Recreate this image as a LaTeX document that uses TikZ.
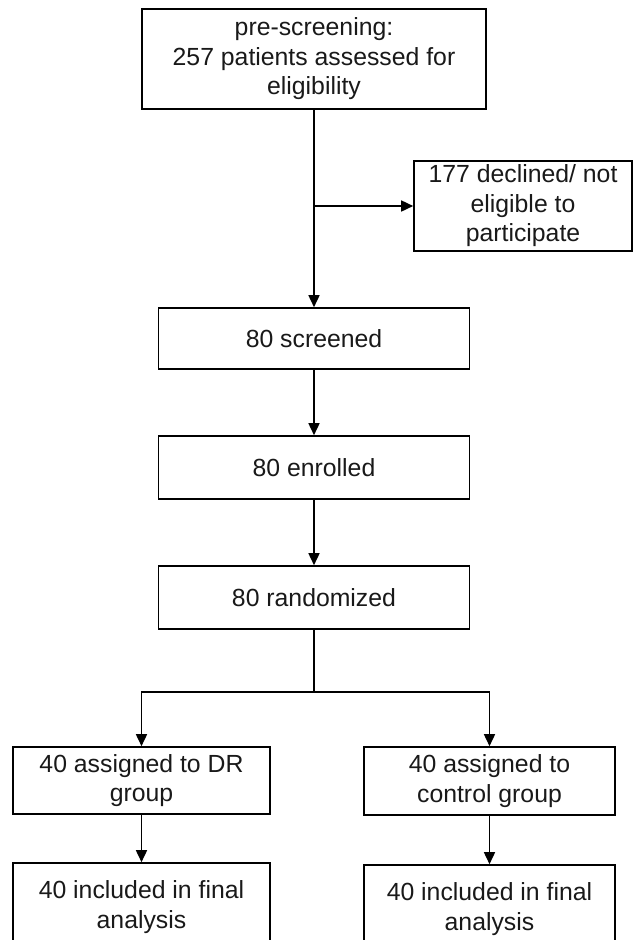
\documentclass[tikz,border=0pt]{standalone}
\usepackage{fontspec}
\setmainfont{Liberation Sans}
\usetikzlibrary{arrows.meta}
\begin{document}
\begin{tikzpicture}[x=1pt,y=-1pt,
  box/.style={draw=black, line width=1.6pt, rectangle, inner sep=0pt, align=center,
    font=\fontsize{24.8}{29.5}\selectfont, text=black!90},
  arr/.style={draw=black, line width=1.6pt, -{Triangle[length=12pt,width=11pt]}},
  ln/.style={draw=black, line width=1.6pt}]
\useasboundingbox (0,0) rectangle (638,940);
\clip (0,0) rectangle (638,940);
\node[box, minimum width=344pt, minimum height=100pt] (top) at (314,59)
  {pre-screening:\\257 patients assessed for\\eligibility};
\node[box, minimum width=218pt, minimum height=90pt] (decl) at (523,206)
  {177 declined/ not\\eligible to\\participate};
\node[box, minimum width=311pt, minimum height=61pt] (scr) at (314,338.5) {80 screened};
\node[box, minimum width=311pt, minimum height=63pt] (enr) at (314,467.5) {80 enrolled};
\node[box, minimum width=311pt, minimum height=63pt] (rnd) at (314,597.5) {80 randomized};
\node[box, minimum width=257pt, minimum height=67pt] (dr) at (141.5,780.5) {40 assigned to DR\\group};
\node[box, minimum width=251pt, minimum height=68pt] (ctl) at (489.5,781) {40 assigned to\\control group};
\node[box, minimum width=257pt, minimum height=88pt] (fdr) at (141.5,907) {40 included in final\\analysis};
\node[box, minimum width=251pt, minimum height=88pt] (fctl) at (489.5,909) {40 included in final\\analysis};
\coordinate (split) at (314,692);
\draw[arr] (top.south) -- (scr.north);
\draw[arr] (top.south |- decl.west) -- (decl.west);
\draw[arr] (scr.south) -- (enr.north);
\draw[arr] (enr.south) -- (rnd.north);
\draw[ln] (rnd.south) -- (split);
\draw[arr] (split) -| (dr.north);
\draw[arr] (split) -| (ctl.north);
\draw[arr] (dr.south) -- (fdr.north);
\draw[arr] (ctl.south) -- (fctl.north);
\end{tikzpicture}
\end{document}
